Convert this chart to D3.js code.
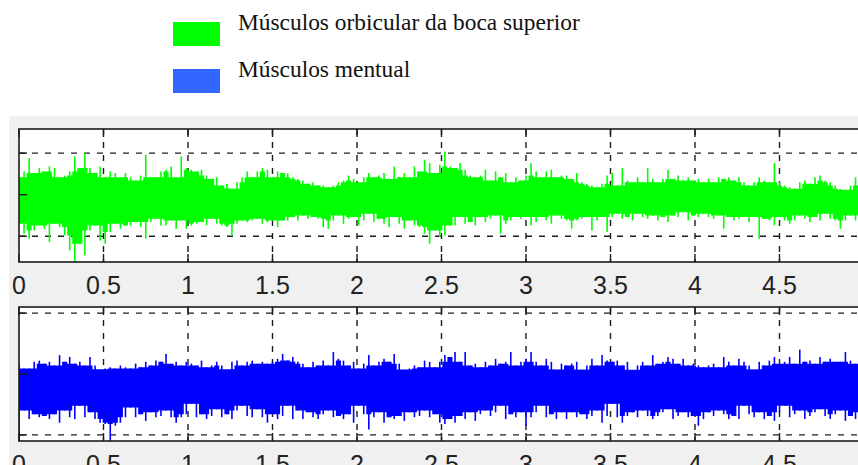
<!DOCTYPE html>
<html>
<head>
<meta charset="utf-8">
<script src="https://cdn.jsdelivr.net/npm/d3@7"></script>
<style>
  html, body { margin: 0; padding: 0; background: #ffffff; }
  svg { display: block; }
</style>
</head>
<body>
<svg id="chart" width="858" height="465"></svg>
<script>
// ---- data -------------------------------------------------------------
const seriesNames = ["Músculos orbicular da boca superior", "Músculos mentual"];
const lineColors = ["#00ff00", "#0000ff"];
const legendColors = ["#00ff00", "#3366ff"];
const xTickValues = [0, 0.5, 1, 1.5, 2, 2.5, 3, 3.5, 4, 4.5, 5];
const xTickLabels = ["0", "0.5", "1", "1.5", "2", "2.5", "3", "3.5", "4", "4.5", "5"];
const sampleStep = 0.03;   // seconds between envelope samples

// upper / lower envelope of the orbicularis signal, one pair per sample
const greenHigh = [
  0.21,0.28,0.44,0.26,0.32,0.28,0.34,0.32,0.21,0.23,
  0.28,0.46,0.32,0.50,0.32,0.26,0.34,0.21,0.28,0.26,
  0.21,0.26,0.21,0.17,0.23,0.48,0.21,0.21,0.28,0.30,
  0.34,0.21,0.46,0.32,0.30,0.28,0.30,0.23,0.19,0.21,
  0.11,0.13,0.07,0.15,0.21,0.28,0.21,0.28,0.32,0.30,
  0.21,0.28,0.26,0.26,0.21,0.19,0.17,0.13,0.15,0.11,
  0.11,0.09,0.11,0.15,0.17,0.23,0.19,0.15,0.21,0.26,
  0.21,0.23,0.26,0.19,0.34,0.21,0.26,0.21,0.34,0.28,
  0.42,0.38,0.26,0.36,0.52,0.34,0.32,0.38,0.30,0.23,
  0.21,0.23,0.30,0.17,0.28,0.21,0.26,0.15,0.21,0.17,
  0.23,0.38,0.28,0.21,0.28,0.30,0.21,0.23,0.23,0.19,
  0.26,0.15,0.13,0.11,0.09,0.13,0.23,0.26,0.11,0.32,
  0.17,0.15,0.21,0.15,0.32,0.19,0.15,0.19,0.30,0.19,
  0.23,0.17,0.21,0.17,0.19,0.15,0.19,0.15,0.21,0.19,
  0.21,0.17,0.21,0.15,0.11,0.15,0.21,0.17,0.15,0.38,
  0.15,0.11,0.09,0.07,0.15,0.17,0.13,0.21,0.23,0.17,
  0.15,0.11,0.07,0.03,0.11,0.21,0.19
];
const greenLow = [
  -0.35,-0.47,-0.53,-0.43,-0.37,-0.41,-0.57,-0.35,-0.39,-0.49,
  -0.67,-0.81,-0.59,-0.73,-0.43,-0.37,-0.55,-0.59,-0.45,-0.35,
  -0.41,-0.37,-0.37,-0.33,-0.39,-0.53,-0.33,-0.29,-0.37,-0.37,
  -0.31,-0.41,-0.31,-0.41,-0.37,-0.35,-0.33,-0.37,-0.29,-0.35,
  -0.37,-0.39,-0.49,-0.35,-0.31,-0.33,-0.31,-0.29,-0.35,-0.33,
  -0.31,-0.39,-0.31,-0.31,-0.27,-0.31,-0.25,-0.29,-0.27,-0.29,
  -0.39,-0.41,-0.31,-0.25,-0.35,-0.29,-0.27,-0.37,-0.31,-0.23,
  -0.33,-0.29,-0.35,-0.39,-0.27,-0.35,-0.41,-0.31,-0.37,-0.39,
  -0.47,-0.59,-0.43,-0.51,-0.49,-0.37,-0.37,-0.27,-0.35,-0.33,
  -0.37,-0.27,-0.33,-0.29,-0.25,-0.47,-0.35,-0.31,-0.27,-0.29,
  -0.27,-0.37,-0.33,-0.27,-0.31,-0.35,-0.25,-0.29,-0.31,-0.41,
  -0.31,-0.29,-0.27,-0.43,-0.31,-0.27,-0.45,-0.27,-0.23,-0.29,
  -0.27,-0.31,-0.23,-0.27,-0.29,-0.25,-0.31,-0.27,-0.33,-0.25,
  -0.27,-0.21,-0.31,-0.25,-0.27,-0.23,-0.27,-0.29,-0.25,-0.41,
  -0.27,-0.31,-0.29,-0.27,-0.33,-0.27,-0.53,-0.29,-0.31,-0.37,
  -0.27,-0.31,-0.35,-0.31,-0.25,-0.29,-0.33,-0.27,-0.31,-0.23,
  -0.29,-0.31,-0.41,-0.31,-0.25,-0.31,-0.29
];

// upper / lower envelope of the mentalis signal
const blueHigh = [
  0.17,0.09,0.09,0.20,0.22,0.17,0.20,0.14,0.31,0.20,
  0.28,0.17,0.20,0.14,0.28,0.14,0.03,0.09,0.11,0.09,
  0.14,0.11,0.09,0.17,0.11,0.20,0.14,0.22,0.20,0.33,
  0.17,0.20,0.14,0.20,0.17,0.14,0.22,0.11,0.14,0.20,
  0.14,0.03,0.20,0.22,0.14,0.20,0.22,0.17,0.20,0.17,
  0.20,0.25,0.33,0.22,0.28,0.20,0.17,0.11,0.20,0.14,
  0.22,0.14,0.36,0.25,0.22,0.14,0.20,0.09,0.17,0.31,
  0.14,0.20,0.25,0.20,0.33,0.17,0.03,0.09,0.14,0.11,
  0.22,0.20,0.11,0.20,0.31,0.28,0.36,0.20,0.36,0.14,
  0.17,0.11,0.20,0.14,0.25,0.17,0.20,0.36,0.14,0.20,
  0.25,0.36,0.20,0.14,0.25,0.20,0.03,0.17,0.14,0.17,
  0.20,0.03,0.14,0.25,0.14,0.31,0.22,0.20,0.22,0.14,
  0.20,0.00,0.14,0.20,0.14,0.31,0.17,0.20,0.28,0.25,
  0.17,0.25,0.14,0.17,0.14,0.11,0.14,0.17,0.11,0.28,
  0.20,0.14,0.25,0.20,0.14,0.06,0.20,0.14,0.22,0.28,
  0.17,0.20,0.28,0.17,0.40,0.20,0.22,0.17,0.28,0.20,
  0.25,0.20,0.20,0.36,0.22,0.17,0.20
];
const blueLow = [
  -1.10,-0.60,-0.74,-0.66,-0.71,-0.69,-0.74,-0.66,-0.80,-0.60,
  -0.71,-0.74,-0.52,-0.71,-0.63,-0.74,-0.80,-0.82,-1.10,-0.85,
  -0.80,-0.71,-0.55,-0.71,-0.66,-0.77,-0.63,-0.71,-0.69,-0.60,
  -0.71,-0.80,-0.71,-0.66,-0.49,-0.71,-0.66,-0.74,-0.69,-0.58,
  -0.71,-0.66,-0.74,-0.60,-0.52,-0.69,-0.71,-0.58,-0.71,-0.80,
  -0.66,-0.74,-0.69,-0.52,-0.74,-0.60,-0.74,-0.63,-0.71,-0.74,
  -0.66,-0.60,-0.71,-0.69,-0.74,-0.66,-0.80,-0.52,-0.66,-0.91,
  -0.71,-0.63,-0.80,-0.71,-0.74,-0.69,-0.77,-0.63,-0.71,-0.69,
  -0.60,-0.71,-0.66,-0.80,-0.82,-0.74,-0.80,-0.69,-0.74,-0.63,
  -0.77,-0.66,-0.60,-0.69,-0.63,-0.52,-0.74,-0.66,-0.71,-0.63,
  -0.85,-0.71,-0.63,-0.52,-0.71,-0.66,-0.74,-0.63,-0.74,-0.63,
  -0.71,-0.66,-0.74,-0.69,-0.60,-0.80,-0.69,-0.49,-0.71,-0.80,
  -0.69,-0.63,-0.71,-0.60,-0.69,-0.74,-0.69,-0.63,-0.58,-0.74,
  -0.69,-0.63,-0.71,-0.69,-0.85,-0.74,-0.63,-0.69,-0.60,-0.66,
  -0.74,-0.69,-0.74,-0.52,-0.66,-0.71,-0.63,-0.74,-0.69,-0.77,
  -0.63,-0.52,-0.71,-0.66,-0.60,-0.74,-0.69,-0.63,-0.58,-0.69,
  -0.74,-0.66,-0.60,-0.77,-0.69,-0.74,-0.63
];

// dense core band of each signal, sampled every half second
const coreTimes = [0, 0.5, 1, 1.5, 2, 2.5, 3, 3.5, 4, 4.5, 5];
const greenCoreHigh = [0.12, 0.10, 0.08, 0.06, 0.07, 0.09, 0.07, 0.06, 0.06, 0.06, 0.06];
const greenCoreLow  = [-0.24, -0.22, -0.20, -0.18, -0.18, -0.21, -0.18, -0.17, -0.17, -0.17, -0.17];
const blueCoreHigh  = [0.08, 0.08, 0.08, 0.08, 0.07, 0.08, 0.08, 0.07, 0.07, 0.08, 0.08];
const blueCoreLow   = [-0.49, -0.49, -0.48, -0.49, -0.49, -0.48, -0.49, -0.48, -0.49, -0.48, -0.49];

// ---- layout -----------------------------------------------------------
const svg = d3.select("#chart");
const W = 858, H = 465;

svg.append("rect").attr("x", 9).attr("y", 116).attr("width", W - 9).attr("height", H - 116)
  .attr("fill", "#f0f0f0");

const x = d3.scaleLinear().domain([0, 5]).range([19, 864]);

const panels = [
  { top: 129, bottom: 262, domain: [-0.81, 0.79], yTicks: [-0.5, 0, 0.5],
    high: greenHigh, low: greenLow, coreHigh: greenCoreHigh, coreLow: greenCoreLow, color: lineColors[0] },
  { top: 307, bottom: 441, domain: [-1.1, 1.1], yTicks: [-1, 0, 1],
    high: blueHigh, low: blueLow, coreHigh: blueCoreHigh, coreLow: blueCoreLow, color: lineColors[1] }
];

const ink = "#1c1c1c";
const dash = "6,7";

// the dense body of the trace only reaches as far as a sample's neighbours do;
// isolated peaks stand out from it as thin needles
function body(arr, i, pick) {
  const a = arr[Math.max(0, i - 1)], b = arr[i], c = arr[Math.min(arr.length - 1, i + 1)];
  return pick(a, b, c);
}

panels.forEach((p, k) => {
  const y = d3.scaleLinear().domain(p.domain).range([p.bottom, p.top]);
  const g = svg.append("g");
  const x0 = x.range()[0], x1 = x.range()[1];

  g.append("rect").attr("x", x0).attr("y", p.top).attr("width", x1 - x0).attr("height", p.bottom - p.top)
    .attr("fill", "#ffffff");

  // grid
  g.selectAll(".vgrid").data(xTickValues.slice(1, -1)).join("line")
    .attr("x1", d => x(d)).attr("x2", d => x(d)).attr("y1", p.top).attr("y2", p.bottom)
    .attr("stroke", ink).attr("stroke-width", 1.4).attr("stroke-dasharray", dash);
  g.selectAll(".hgrid").data(p.yTicks).join("line")
    .attr("x1", x0).attr("x2", x1).attr("y1", d => y(d)).attr("y2", d => y(d))
    .attr("stroke", ink).attr("stroke-width", 1.4).attr("stroke-dasharray", dash);

  // signal
  const clipId = "clip" + k;
  svg.append("clipPath").attr("id", clipId).append("rect")
    .attr("x", x0).attr("y", p.top).attr("width", x1 - x0).attr("height", p.bottom - p.top);
  const sg = g.append("g").attr("clip-path", `url(#${clipId})`);

  const core = coreTimes.map((t, i) => ({ t, hi: p.coreHigh[i], lo: p.coreLow[i] }));
  sg.append("path").datum(core)
    .attr("d", d3.area().x(d => x(d.t)).y0(d => y(d.lo)).y1(d => y(d.hi)))
    .attr("fill", p.color);

  const samples = p.high.map((hi, i) => ({
    t: i * sampleStep, hi, lo: p.low[i],
    bodyHi: body(p.high, i, Math.min), bodyLo: body(p.low, i, Math.max)
  }));
  sg.append("path").datum(samples)
    .attr("d", d3.area().curve(d3.curveStep).x(d => x(d.t)).y0(d => y(d.bodyLo)).y1(d => y(d.bodyHi)))
    .attr("fill", p.color);
  sg.selectAll(".spike").data(samples).join("line")
    .attr("x1", d => x(d.t)).attr("x2", d => x(d.t))
    .attr("y1", d => y(d.lo)).attr("y2", d => y(d.hi))
    .attr("stroke", p.color).attr("stroke-width", 1.6);

  // ticks pointing inward
  const tl = 8;
  g.selectAll(".tickB").data(xTickValues).join("line")
    .attr("x1", d => x(d)).attr("x2", d => x(d)).attr("y1", p.bottom).attr("y2", p.bottom - tl)
    .attr("stroke", ink).attr("stroke-width", 1.4);
  g.selectAll(".tickT").data(xTickValues).join("line")
    .attr("x1", d => x(d)).attr("x2", d => x(d)).attr("y1", p.top).attr("y2", p.top + tl)
    .attr("stroke", ink).attr("stroke-width", 1.4);
  g.selectAll(".tickL").data(p.yTicks).join("line")
    .attr("x1", x0).attr("x2", x0 + tl).attr("y1", d => y(d)).attr("y2", d => y(d))
    .attr("stroke", ink).attr("stroke-width", 1.4);

  // box
  g.append("rect").attr("x", x0).attr("y", p.top).attr("width", x1 - x0).attr("height", p.bottom - p.top)
    .attr("fill", "none").attr("stroke", ink).attr("stroke-width", 1.6);

  // tick labels (only those that fall inside the figure)
  const shown = xTickValues.map((v, i) => ({ v, label: xTickLabels[i] })).filter(d => x(d.v) < W - 4);
  g.selectAll(".lab").data(shown).join("text")
    .attr("x", d => x(d.v)).attr("y", p.bottom + 32)
    .attr("text-anchor", "middle")
    .attr("font-family", "'Liberation Sans', Arial, sans-serif")
    .attr("font-size", 25).attr("fill", "#222")
    .text(d => d.label);
});

// ---- legend -----------------------------------------------------------
const legend = svg.append("g");
seriesNames.forEach((name, i) => {
  legend.append("rect").attr("x", 173).attr("y", 22 + i * 47).attr("width", 47).attr("height", 24)
    .attr("fill", legendColors[i]);
  legend.append("text").attr("x", 238).attr("y", 30 + i * 47)
    .attr("font-family", "'Liberation Serif', 'Times New Roman', serif")
    .attr("font-size", 23.4).attr("fill", "#111")
    .text(name);
});
</script>
</body>
</html>
